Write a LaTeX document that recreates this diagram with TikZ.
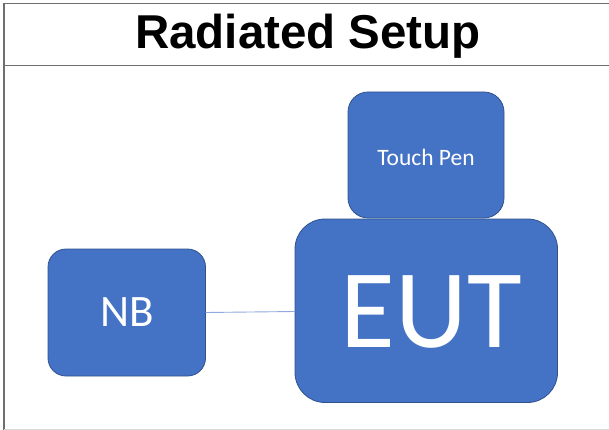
\documentclass[tikz,border=0pt]{standalone}
\usepackage{fontspec}
\setmainfont{Carlito}
\newfontfamily\titlefont{Liberation Sans}
\definecolor{boxfill}{HTML}{4472C4}
\definecolor{boxedge}{HTML}{2F528F}
\definecolor{linkcol}{HTML}{8FAADC}
\definecolor{framecol}{HTML}{6F6F6F}
\begin{document}
\begin{tikzpicture}[x=1pt,y=-1pt,
  blockbox/.style={draw=boxedge,line width=0.8pt,fill=boxfill,text=white},
  framebar/.style={draw=framecol,line width=1.5pt}]
\useasboundingbox (0,0) rectangle (609,430);
% frame
\draw[framebar] (4,430) -- (4,3.5) -- (609,3.5);
\draw[framebar] (4,65.5) -- (609,65.5);
\draw[draw=black!15,line width=1pt] (4,429) -- (609,429);
\node (title) at (308,36) {\titlefont\bfseries\fontsize{47.5}{52}\selectfont Radiated Setup};
% boxes
\draw[blockbox,rounded corners=20pt] (348,92) rectangle (504,218);
\node[text=white] (pen) at (426,157) {\fontsize{23.5}{28}\selectfont Touch Pen};
\draw[blockbox,rounded corners=30pt] (295,219) rectangle (557.5,402.5);
\node[text=white] (eut) at (431,312) {\fontsize{112}{120}\selectfont EUT};
\draw[blockbox,rounded corners=18pt] (48,249) rectangle (205.5,376);
\node[text=white] (nb) at (127,312) {\fontsize{45}{50}\selectfont NB};
\coordinate (nbr) at (205.5,312.5);
\coordinate (eutl) at (295,311.5);
\draw[linkcol,line width=0.9pt] (nbr) -- (eutl);
\end{tikzpicture}
\end{document}
